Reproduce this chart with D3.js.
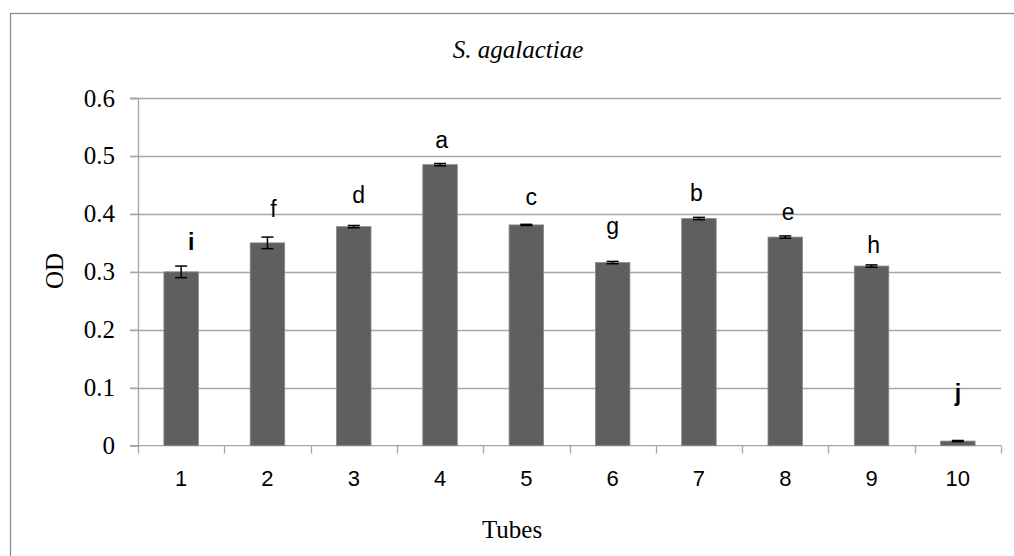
<!DOCTYPE html>
<html>
<head>
<meta charset="utf-8">
<script src="https://cdn.jsdelivr.net/npm/d3@7"></script>
<style>
  html, body { margin: 0; padding: 0; background: #fff; }
  svg { display: block; }
</style>
</head>
<body>
<svg id="chart" width="1014" height="556"></svg>
<script>
// Optical density of S. agalactiae per tube, mean ± error, with significance letters
const tubes = ["1", "2", "3", "4", "5", "6", "7", "8", "9", "10"];
const od = [0.300, 0.350, 0.378, 0.485, 0.381, 0.316, 0.392, 0.360, 0.310, 0.008];
const odErr = [0.010, 0.010, 0.002, 0.002, 0.001, 0.002, 0.002, 0.002, 0.002, 0.001];
const letters = ["i", "f", "d", "a", "c", "g", "b", "e", "h", "j"];
const boldLetters = ["i", "j"];
const yTicks = [0, 0.1, 0.2, 0.3, 0.4, 0.5, 0.6];

// letter placement nudges (px) relative to the top of each error bar
const letterNudge = [[10, 16], [6, 20], [5, 22], [1.5, 15], [5, 19], [0, 27], [-2.5, 16], [3, 16], [2, 12], [0, 39]];

const svg = d3.select("#chart");
const plot = { left: 138, right: 1001, top: 98, bottom: 445.7 };

const x = d3.scaleBand().domain(tubes).range([plot.left, plot.right]).paddingInner(0.6).paddingOuter(0.3);
const y = d3.scaleLinear().domain([0, 0.6]).range([plot.bottom, plot.top]);

const serif = "'Liberation Serif', 'Times New Roman', serif";
const sans = "'Liberation Sans', Arial, sans-serif";
const gridColor = "#a6a6a6";

// chart area frame
svg.append("rect")
  .attr("x", 10.5).attr("y", 13.5)
  .attr("width", 1010).attr("height", 560)
  .attr("fill", "#fff").attr("stroke", "#8c8c8c").attr("stroke-width", 1.3);

// horizontal gridlines with short left tick
svg.append("g").selectAll("line").data(yTicks.filter(d => d > 0)).join("line")
  .attr("x1", plot.left - 8).attr("x2", plot.right)
  .attr("y1", d => Math.round(y(d)) + 0.5).attr("y2", d => Math.round(y(d)) + 0.5)
  .attr("stroke", gridColor).attr("stroke-width", 1.3);

// y axis
const yAxis = svg.append("g")
  .attr("transform", `translate(${plot.left},0)`)
  .call(d3.axisLeft(y).tickValues(yTicks).tickFormat(d => d === 0 ? "0" : d3.format(".1f")(d)).tickSize(8).tickPadding(15));
yAxis.select(".domain").attr("stroke", gridColor).attr("stroke-width", 1.3);
yAxis.selectAll(".tick line").attr("stroke", gridColor).attr("stroke-width", 1.3);
yAxis.selectAll(".tick text")
  .attr("font-family", serif).attr("font-size", 25).attr("fill", "#000");

// x axis: ticks sit on category boundaries
const xAxisG = svg.append("g").attr("transform", `translate(0,${plot.bottom})`);
xAxisG.append("line")
  .attr("x1", plot.left - 8).attr("x2", plot.right)
  .attr("y1", 0).attr("y2", 0)
  .attr("stroke", gridColor).attr("stroke-width", 1.3);
const step = x.step();
const boundaries = d3.range(tubes.length + 1).map(i => plot.left + i * (plot.right - plot.left) / tubes.length);
xAxisG.selectAll("line.tk").data(boundaries).join("line")
  .attr("class", "tk")
  .attr("x1", d => Math.round(d) + 0.5).attr("x2", d => Math.round(d) + 0.5)
  .attr("y1", 0).attr("y2", 8)
  .attr("stroke", gridColor).attr("stroke-width", 1.3);
xAxisG.selectAll("text").data(tubes).join("text")
  .attr("x", d => x(d) + x.bandwidth() / 2)
  .attr("y", 40)
  .attr("text-anchor", "middle")
  .attr("font-family", sans).attr("font-size", 22).attr("fill", "#000")
  .text(d => d);

// bars
svg.append("g").selectAll("rect").data(tubes).join("rect")
  .attr("x", d => x(d))
  .attr("y", (d, i) => y(od[i]))
  .attr("width", x.bandwidth())
  .attr("height", (d, i) => plot.bottom - y(od[i]))
  .attr("fill", "#5f5f5f")
  .attr("stroke", "#8a8a8a").attr("stroke-width", 0.8);

// error bars
const cap = 6;
const eb = svg.append("g").attr("stroke", "#000").attr("stroke-width", 1.5);
tubes.forEach((t, i) => {
  const cx = x(t) + x.bandwidth() / 2;
  const yHi = y(od[i] + odErr[i]);
  const yLo = y(od[i] - odErr[i]);
  eb.append("line").attr("x1", cx).attr("x2", cx).attr("y1", yHi).attr("y2", yLo);
  eb.append("line").attr("x1", cx - cap).attr("x2", cx + cap).attr("y1", yHi).attr("y2", yHi);
  eb.append("line").attr("x1", cx - cap).attr("x2", cx + cap).attr("y1", yLo).attr("y2", yLo);
});

// significance letters
svg.append("g").selectAll("text").data(tubes).join("text")
  .attr("x", (d, i) => x(d) + x.bandwidth() / 2 + letterNudge[i][0])
  .attr("y", (d, i) => y(od[i] + odErr[i]) - letterNudge[i][1])
  .attr("text-anchor", "middle")
  .attr("font-family", sans).attr("font-size", 23).attr("fill", "#000")
  .attr("font-weight", (d, i) => boldLetters.includes(letters[i]) ? "bold" : "normal")
  .text((d, i) => letters[i]);

// titles
svg.append("text")
  .attr("x", 518).attr("y", 58)
  .attr("text-anchor", "middle")
  .attr("font-family", serif).attr("font-style", "italic").attr("font-size", 25)
  .text("S. agalactiae");

svg.append("text")
  .attr("x", 512).attr("y", 538)
  .attr("text-anchor", "middle")
  .attr("font-family", serif).attr("font-size", 25)
  .text("Tubes");

svg.append("text")
  .attr("transform", "translate(63,271) rotate(-90)")
  .attr("text-anchor", "middle")
  .attr("font-family", serif).attr("font-size", 25)
  .text("OD");
</script>
</body>
</html>
